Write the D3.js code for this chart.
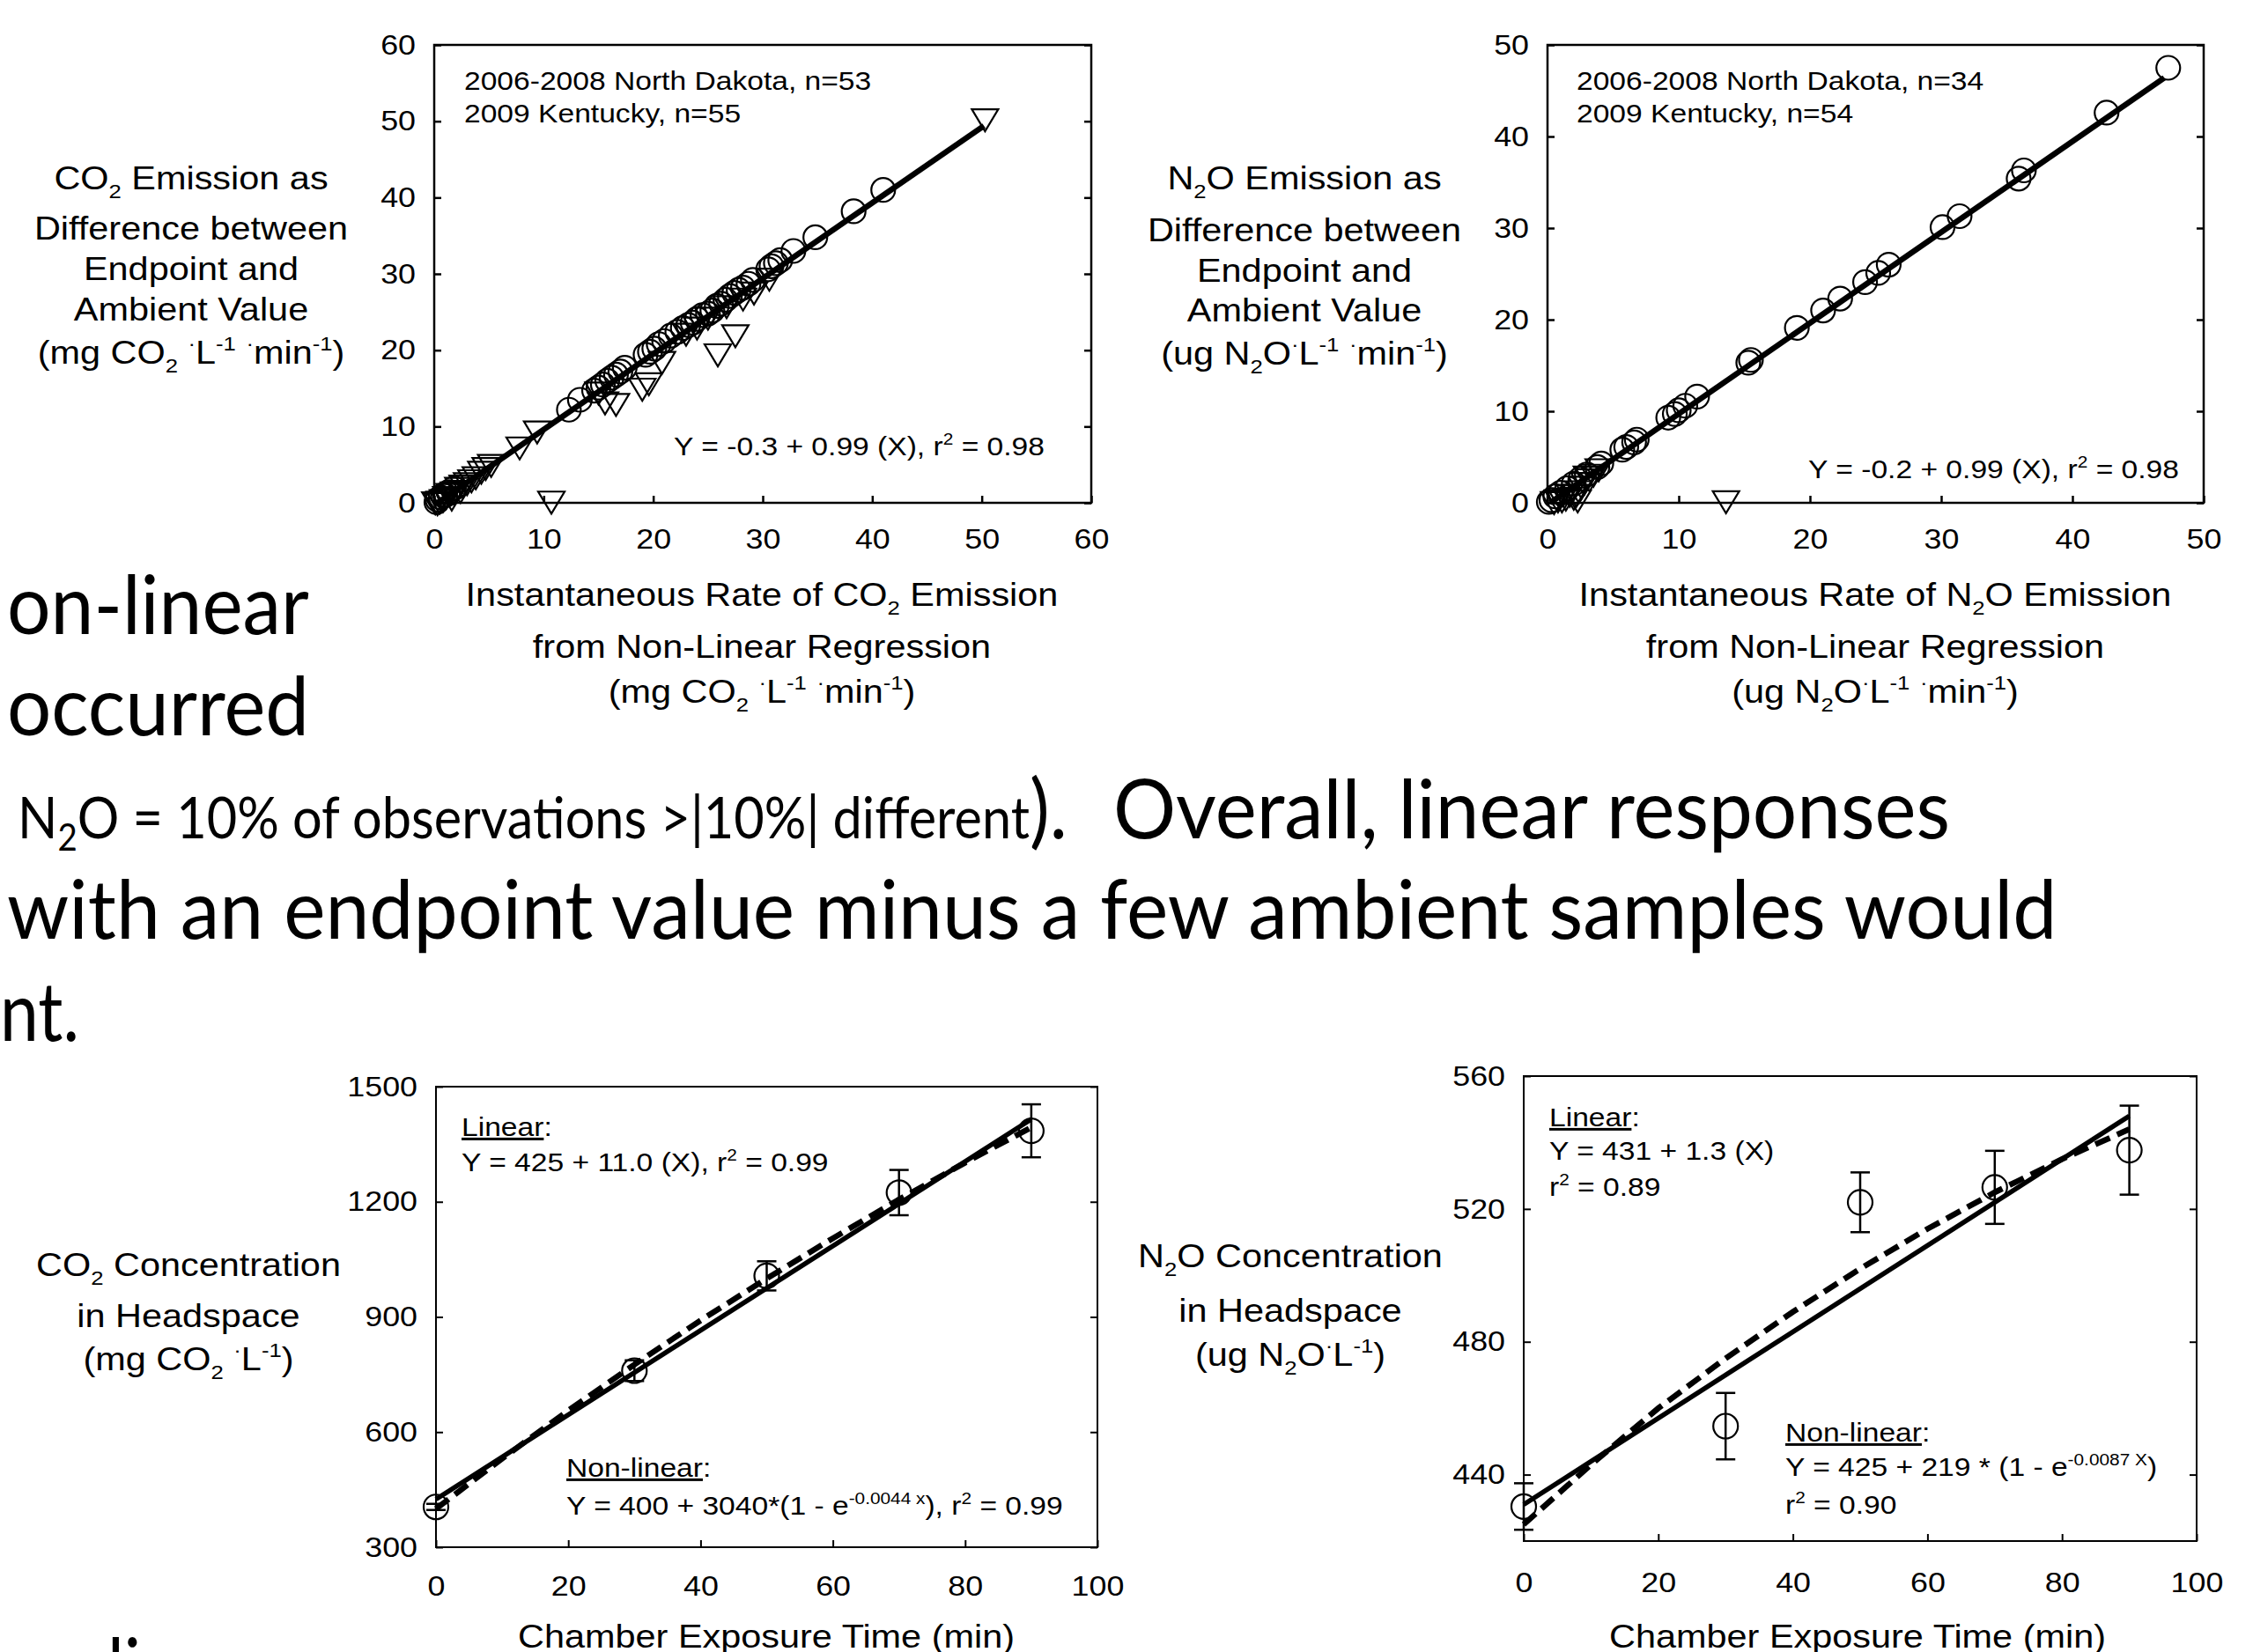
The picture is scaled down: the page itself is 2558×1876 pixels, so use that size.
<!DOCTYPE html>
<meta charset="utf-8">
<style>
  body { margin: 0; background: #fff; }
  svg { display: block; }
  .chart text { font-family: "Liberation Sans", Arial, sans-serif; fill: #000; }
  .slide text { font-family: Lato, "Open Sans", sans-serif; fill: #000; }
</style>
<body>
<script src="https://cdn.jsdelivr.net/npm/d3@7"></script>
<script>
// ---- data ----
// top left: CO2 endpoint vs non-linear rate
var co2CircleX = [41.0, 38.3, 34.8, 32.8, 31.6, 31.2, 30.8, 30.5, 29.1, 28.7, 28.2, 27.8, 27.4, 27.0, 26.6, 26.2, 25.8, 25.4, 25.0, 24.5, 24.0, 23.6, 23.2, 22.7, 22.2, 21.6, 21.0, 20.5, 20.1, 19.7, 19.3, 17.4, 17.0, 16.6, 16.2, 15.8, 15.4, 15.0, 14.6, 13.3, 12.3, 1.8, 1.3, 1.0, 0.8, 0.6, 0.3, 0.2];
var co2CircleY = [41.0, 38.2, 34.8, 33.0, 31.8, 31.4, 31.0, 30.6, 29.2, 28.7, 28.2, 27.9, 27.5, 27.1, 26.6, 26.1, 25.8, 25.2, 24.8, 24.6, 24.1, 23.6, 23.3, 22.9, 22.4, 21.9, 21.2, 20.8, 20.2, 19.8, 19.4, 17.7, 17.2, 16.8, 16.4, 16.0, 15.5, 15.1, 14.7, 13.5, 12.2, 1.9, 1.4, 1.0, 1.0, 0.7, 0.4, 0.1];
var co2TriX = [50.3, 30.6, 29.2, 28.2, 27.5, 26.7, 25.9, 25.0, 24.0, 23.0, 20.8, 19.6, 19.0, 16.6, 15.6, 15.0, 10.7, 9.4, 7.8, 5.2, 4.7, 4.3, 3.8, 3.4, 3.0, 2.6, 2.4, 2.2, 1.8, 1.6, 1.4, 1.1, 0.8, 0.5, 0.3, 0.1];
var co2TriY = [50.3, 29.4, 27.6, 26.8, 22.0, 25.8, 19.5, 24.3, 23.0, 22.2, 18.5, 15.7, 15.0, 13.0, 13.2, 14.5, 0.2, 9.4, 7.3, 5.0, 4.6, 4.1, 3.4, 3.0, 2.6, 2.3, 1.6, 2.0, 1.4, 0.6, 1.2, 0.8, 0.4, 0.2, 0.0, 0.1];
var co2FitX = [0.3, 50.2];
var co2FitY = [0.0, 49.4];

// top right: N2O endpoint vs non-linear rate
var n2oCircleX = [47.3, 42.6, 36.3, 35.9, 31.4, 30.1, 26.0, 25.2, 24.2, 22.3, 21.0, 19.0, 15.5, 15.3, 11.4, 10.5, 10.0, 9.7, 9.2, 6.8, 6.6, 6.0, 5.7, 4.1, 3.8, 3.0, 2.5, 2.0, 1.5, 1.0, 0.6, 0.3, 0.1];
var n2oCircleY = [47.5, 42.6, 36.3, 35.4, 31.3, 30.1, 26.0, 25.1, 24.1, 22.3, 21.0, 19.1, 15.6, 15.3, 11.6, 10.6, 10.1, 9.7, 9.3, 6.9, 6.6, 6.1, 5.8, 4.3, 3.9, 3.1, 2.6, 2.1, 1.6, 1.1, 0.7, 0.3, 0.1];
var n2oTriX = [13.6, 3.9, 3.5, 3.2, 3.0, 2.8, 2.6, 2.4, 2.3, 2.2, 2.0, 1.7, 1.4, 1.1, 0.8, 0.5];
var n2oTriY = [0.2, 3.7, 3.1, 2.6, 2.9, 2.2, 1.8, 1.3, 0.3, 0.9, 0.6, 0.9, 0.5, 0.3, 0.3, 0.1];
var n2oFitX = [0.2, 47.0];
var n2oFitY = [0.0, 46.4];

// bottom: headspace concentration over time
var timeMin = [0, 30, 50, 70, 90];
var co2Mean = [405, 760, 1007, 1224, 1385];
var co2Err = [8, 27, 38, 59, 69];
var n2oMean = [430.4, 454.6, 522.0, 526.5, 537.7];
var n2oErr = [7, 10, 9, 11, 13.4];
var co2LinX = [0, 90];
var co2LinY = [425, 1415];
var curveX = [0, 10, 20, 30, 40, 50, 60, 70, 80, 90];
var co2NonlinY = [400, 531, 656, 776, 891, 1000, 1105, 1206, 1302, 1394];
var n2oLinX = [0, 90];
var n2oLinY = [431, 548];
var n2oNonlinY = [425, 443, 460, 475, 489, 502, 514, 525, 535, 544];

// tick values
var ticks60 = [0, 10, 20, 30, 40, 50, 60];
var ticks50 = [0, 10, 20, 30, 40, 50];
var timeTicks = [0, 20, 40, 60, 80, 100];
var co2ConcTicks = [300, 600, 900, 1200, 1500];
var n2oConcTicks = [440, 480, 520, 560];

// ---- drawing ----
var SX = 1.12; // chart text is a bit wider than plain Arial

var svg = d3.select("body").append("svg")
    .attr("width", 2558)
    .attr("height", 1876);

var slide = svg.append("g").attr("class", "slide");
var charts = svg.append("g").attr("class", "chart");

function rich(g, x, y, parts, size, anchor) {
  var t = g.append("text")
      .attr("transform", "translate(" + x + "," + y + ") scale(" + SX + ",1)")
      .attr("font-size", size)
      .attr("text-anchor", anchor || "start");
  var shift = 0;
  parts.forEach(function(p) {
    var s = Array.isArray(p) ? p[0] : p,
        k = Array.isArray(p) ? p[1] : "n";
    var off = k == "sub" ? 0.28 * size : (k == "sup" ? -0.4 * size : 0);
    var ts = t.append("tspan").attr("dy", off - shift).text(s);
    if (k == "sub" || k == "sup") ts.attr("font-size", 0.62 * size);
    if (k == "u") ts.attr("text-decoration", "underline");
    shift = off;
  });
  return t;
}

function panel(p) {
  var g = charts.append("g");
  var x = d3.scaleLinear().domain(p.xDom).range([p.x0, p.x1]);
  var y = d3.scaleLinear().domain(p.yDom).range([p.y1, p.y0]);

  g.append("rect")
      .attr("x", p.x0).attr("y", p.y0)
      .attr("width", p.x1 - p.x0).attr("height", p.y1 - p.y0)
      .attr("fill", "none").attr("stroke", "#000").attr("stroke-width", p.sw);

  var fmt = function(d) { return d; };
  var left = g.append("g").attr("transform", "translate(" + p.x0 + ",0)")
      .call(d3.axisLeft(y).tickValues(p.yTicks).tickSizeInner(-8).tickSizeOuter(0).tickPadding(21).tickFormat(fmt));
  var bottom = g.append("g").attr("transform", "translate(0," + p.y1 + ")")
      .call(d3.axisBottom(x).tickValues(p.xTicks).tickSizeInner(-8).tickSizeOuter(0).tickPadding(p.xPad).tickFormat(fmt));
  var right = g.append("g").attr("transform", "translate(" + p.x1 + ",0)")
      .call(d3.axisRight(y).tickValues(p.yTicks).tickSizeInner(-8).tickSizeOuter(0).tickFormat(""));

  [left, bottom, right].forEach(function(a) {
    a.attr("font-family", null).attr("font-size", null);
    a.select(".domain").remove();
    a.selectAll("line").attr("stroke-width", p.sw);
    a.selectAll("text")
        .attr("font-size", 32)
        .attr("transform", "scale(" + SX + ",1)");
  });
  left.selectAll("text").attr("x", -21 / SX);
  return {g: g, x: x, y: y};
}

function circles(c, xs, ys, r) {
  c.g.append("g").selectAll("circle")
      .data(xs.map(function(v, i) { return [v, ys[i]]; }))
      .enter().append("circle")
      .attr("cx", function(d) { return c.x(d[0]); })
      .attr("cy", function(d) { return c.y(d[1]); })
      .attr("r", r)
      .attr("fill", "none").attr("stroke", "#000").attr("stroke-width", 2.2);
}

function triangles(c, xs, ys) {
  c.g.append("g").selectAll("path")
      .data(xs.map(function(v, i) { return [v, ys[i]]; }))
      .enter().append("path")
      .attr("d", "M-15,-11L15,-11L0,14Z")
      .attr("transform", function(d) { return "translate(" + c.x(d[0]) + "," + c.y(d[1]) + ")"; })
      .attr("fill", "none").attr("stroke", "#000").attr("stroke-width", 2.2);
}

function fit(c, xs, ys, w, dash) {
  var line = d3.line().x(function(d) { return c.x(d[0]); }).y(function(d) { return c.y(d[1]); });
  c.g.append("path")
      .datum(xs.map(function(v, i) { return [v, ys[i]]; }))
      .attr("d", line)
      .attr("fill", "none").attr("stroke", "#000")
      .attr("stroke-width", w)
      .attr("stroke-dasharray", dash || null);
}

function errorBars(c, xs, m, e) {
  var eb = c.g.append("g").selectAll("g")
      .data(xs.map(function(v, i) { return [v, m[i], e[i]]; }))
      .enter().append("g").attr("stroke", "#000").attr("stroke-width", 2.5);
  eb.append("line")
      .attr("x1", function(d) { return c.x(d[0]); }).attr("x2", function(d) { return c.x(d[0]); })
      .attr("y1", function(d) { return c.y(d[1] - d[2]); }).attr("y2", function(d) { return c.y(d[1] + d[2]); });
  [-1, 1].forEach(function(s) {
    eb.append("line")
        .attr("x1", function(d) { return c.x(d[0]) - 11; }).attr("x2", function(d) { return c.x(d[0]) + 11; })
        .attr("y1", function(d) { return c.y(d[1] + s * d[2]); }).attr("y2", function(d) { return c.y(d[1] + s * d[2]); });
  });
}

var unitCO2 = ["(mg CO", ["2", "sub"], " ", ["\u00b7", "sup"], "L", ["-1", "sup"], " ", ["\u00b7", "sup"], "min", ["-1", "sup"], ")"];
var unitN2O = ["(ug N", ["2", "sub"], "O", ["\u00b7", "sup"], "L", ["-1", "sup"], " ", ["\u00b7", "sup"], "min", ["-1", "sup"], ")"];

// --- top left ---
var c1 = panel({x0: 493, x1: 1239, y0: 51, y1: 571, xDom: [0, 60], yDom: [0, 60],
                xTicks: ticks60, yTicks: ticks60, sw: 2.5, xPad: 29});
circles(c1, co2CircleX, co2CircleY, 13.5);
triangles(c1, co2TriX, co2TriY);
fit(c1, co2FitX, co2FitY, 6.5);
rich(c1.g, 527, 102, ["2006-2008 North Dakota, n=53"], 30);
rich(c1.g, 527, 139, ["2009 Kentucky, n=55"], 30);
rich(c1.g, 1186, 517, ["Y = -0.3 + 0.99 (X), r", ["2", "sup"], " = 0.98"], 30, "end");
rich(c1.g, 217, 215, ["CO", ["2", "sub"], " Emission as"], 37, "middle");
rich(c1.g, 217, 272, ["Difference between"], 37, "middle");
rich(c1.g, 217, 318, ["Endpoint and"], 37, "middle");
rich(c1.g, 217, 364, ["Ambient Value"], 37, "middle");
rich(c1.g, 217, 413, unitCO2, 37, "middle");
rich(c1.g, 865, 688, ["Instantaneous Rate of CO", ["2", "sub"], " Emission"], 37, "middle");
rich(c1.g, 865, 747, ["from Non-Linear Regression"], 37, "middle");
rich(c1.g, 865, 798, unitCO2, 37, "middle");

// --- top right ---
var c2 = panel({x0: 1757, x1: 2502, y0: 51, y1: 571, xDom: [0, 50], yDom: [0, 50],
                xTicks: ticks50, yTicks: ticks50, sw: 2.5, xPad: 29});
circles(c2, n2oCircleX, n2oCircleY, 13.5);
triangles(c2, n2oTriX, n2oTriY);
fit(c2, n2oFitX, n2oFitY, 6.5);
rich(c2.g, 1790, 102, ["2006-2008 North Dakota, n=34"], 30);
rich(c2.g, 1790, 139, ["2009 Kentucky, n=54"], 30);
rich(c2.g, 2474, 543, ["Y = -0.2 + 0.99 (X), r", ["2", "sup"], " = 0.98"], 30, "end");
rich(c2.g, 1481, 215, ["N", ["2", "sub"], "O Emission as"], 37, "middle");
rich(c2.g, 1481, 274, ["Difference between"], 37, "middle");
rich(c2.g, 1481, 320, ["Endpoint and"], 37, "middle");
rich(c2.g, 1481, 365, ["Ambient Value"], 37, "middle");
rich(c2.g, 1481, 414, unitN2O, 37, "middle");
rich(c2.g, 2129, 688, ["Instantaneous Rate of N", ["2", "sub"], "O Emission"], 37, "middle");
rich(c2.g, 2129, 747, ["from Non-Linear Regression"], 37, "middle");
rich(c2.g, 2129, 798, unitN2O, 37, "middle");

// --- bottom left ---
var c3 = panel({x0: 495, x1: 1246, y0: 1234, y1: 1757, xDom: [0, 100], yDom: [300, 1500],
                xTicks: timeTicks, yTicks: co2ConcTicks, sw: 2, xPad: 32});
fit(c3, curveX, co2NonlinY, 6.5, "18,9");
fit(c3, co2LinX, co2LinY, 5.5);
errorBars(c3, timeMin, co2Mean, co2Err);
circles(c3, timeMin, co2Mean, 14);
rich(c3.g, 524, 1290, [["Linear", "u"], ":"], 30);
rich(c3.g, 524, 1330, ["Y = 425 + 11.0 (X), r", ["2", "sup"], " = 0.99"], 30);
rich(c3.g, 643, 1677, [["Non-linear", "u"], ":"], 30);
rich(c3.g, 643, 1720, ["Y = 400 + 3040*(1 - e", ["-0.0044 x", "sup"], "), r", ["2", "sup"], " = 0.99"], 30);
rich(c3.g, 214, 1449, ["CO", ["2", "sub"], " Concentration"], 37, "middle");
rich(c3.g, 214, 1507, ["in Headspace"], 37, "middle");
rich(c3.g, 214, 1556, ["(mg CO", ["2", "sub"], " ", ["\u00b7", "sup"], "L", ["-1", "sup"], ")"], 37, "middle");
rich(c3.g, 870, 1871, ["Chamber Exposure Time (min)"], 37, "middle");

// --- bottom right ---
var c4 = panel({x0: 1730, x1: 2494, y0: 1222, y1: 1750, xDom: [0, 100], yDom: [420, 560],
                xTicks: timeTicks, yTicks: n2oConcTicks, sw: 2, xPad: 35});
fit(c4, curveX, n2oNonlinY, 6.5, "18,9");
fit(c4, n2oLinX, n2oLinY, 5.5);
errorBars(c4, timeMin, n2oMean, n2oErr);
circles(c4, timeMin, n2oMean, 14);
rich(c4.g, 1759, 1279, [["Linear", "u"], ":"], 30);
rich(c4.g, 1759, 1317, ["Y = 431 + 1.3 (X)"], 30);
rich(c4.g, 1759, 1358, ["r", ["2", "sup"], " = 0.89"], 30);
rich(c4.g, 2027, 1637, [["Non-linear", "u"], ":"], 30);
rich(c4.g, 2027, 1676, ["Y = 425 + 219 * (1 - e", ["-0.0087 X", "sup"], ")"], 30);
rich(c4.g, 2027, 1719, ["r", ["2", "sup"], " = 0.90"], 30);
rich(c4.g, 1465, 1439, ["N", ["2", "sub"], "O Concentration"], 37, "middle");
rich(c4.g, 1465, 1501, ["in Headspace"], 37, "middle");
rich(c4.g, 1465, 1551, ["(ug N", ["2", "sub"], "O", ["\u00b7", "sup"], "L", ["-1", "sup"], ")"], 37, "middle");
rich(c4.g, 2109, 1871, ["Chamber Exposure Time (min)"], 37, "middle");

// ---- slide body text behind the charts ----
// squeeze each line horizontally so it spans the width seen on the slide
function squeeze(t, x, y, len) {
  var k = len / t.node().getComputedTextLength();
  t.attr("transform", "translate(" + x + "," + y + ") scale(" + k + ",1)");
  return t;
}
function slideText(x, y, str, size, len) {
  var t = slide.append("text").attr("font-size", size).text(str);
  return squeeze(t, x, y, len);
}
slideText(8, 720, "on-linear", 93, 343);
slideText(8, 835, "occurred", 93, 343);
// small note and the closing bracket share one text element
var small = slide.append("text").attr("font-size", 65);
small.append("tspan").text("N");
small.append("tspan").attr("dy", 14).attr("font-size", 42).text("2");
small.append("tspan").attr("dy", -14).text("O = 10% of observations >|10%| different");
small.append("tspan").attr("font-size", 93).text(").");
squeeze(small, 20, 952, 1192);
slideText(1264, 952, "Overall, linear responses", 93, 950);
slideText(8, 1066, "with an endpoint value minus a few ambient samples would", 93, 2328);
slideText(0, 1182, "nt.", 93, 90);
slideText(122, 1927, "li", 93, 38);
</script>
</body>
